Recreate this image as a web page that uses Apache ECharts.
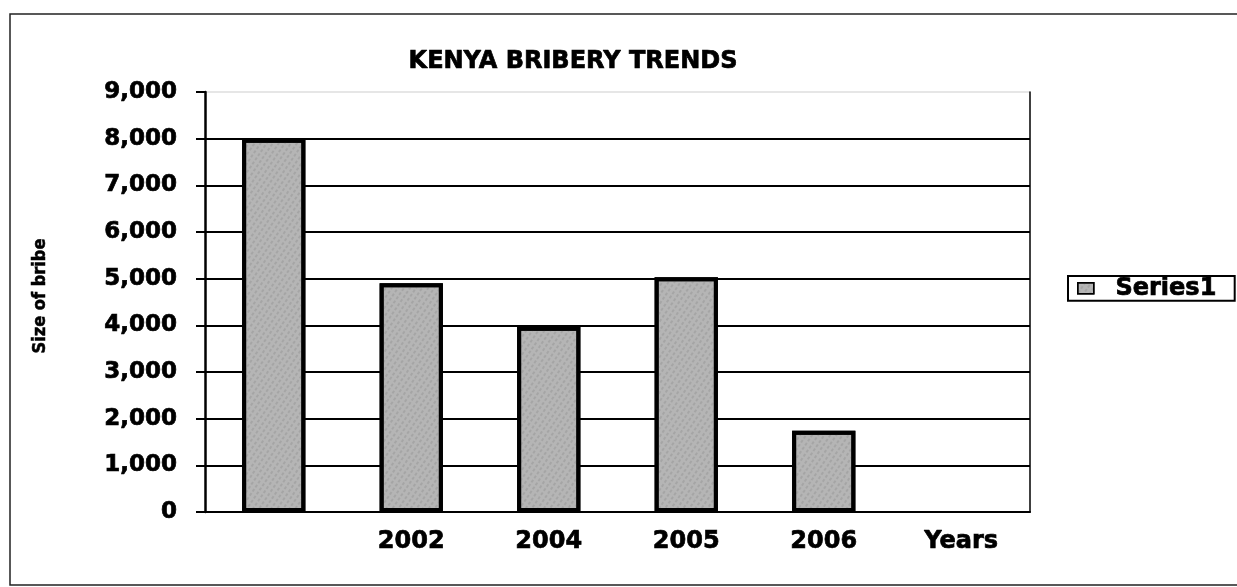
<!DOCTYPE html>
<html>
<head>
<meta charset="utf-8">
<script src="https://cdn.jsdelivr.net/npm/echarts@6/dist/echarts.min.js"></script>
<style>
html,body{margin:0;padding:0;background:#fff;}
#c{width:1237px;height:587px;}
</style>
</head>
<body>
<div id="c"></div>
<script>
var categories = ['', '2002', '2004', '2005', '2006', 'Years'];
var values = [8000, 4900, 3970, 5030, 1740, null];
var seriesName = 'Series1';
var titleText = 'KENYA BRIBERY TRENDS';
var yName = 'Size of bribe';

var chart = echarts.init(document.getElementById('c'), null, {renderer: 'canvas'});
var font = '"DejaVu Sans", Verdana, sans-serif';
var heavy = {textBorderColor: '#000', textBorderWidth: 0.7};
var splitColors = ['#000','#000','#000','#000','#000','#000','#000','#000','#000','#e6e6e6'];
chart.setOption({
  animation: false,
  backgroundColor: '#fff',
  graphic: [{
    type: 'rect', shape: {x: 10, y: 14, width: 1240, height: 571},
    style: {fill: 'none', stroke: '#222', lineWidth: 1.5}, silent: true
  }],
  title: {
    text: titleText, left: 568, top: 45, textAlign: 'center',
    textStyle: Object.assign({fontFamily: font, fontWeight: 'bold', fontSize: 24, color: '#000'}, heavy)
  },
  legend: {
    data: [seriesName], left: 1068, top: 276, orient: 'vertical',
    borderColor: '#000', borderWidth: 2, padding: [0, 18, 0, 9],
    icon: 'rect', itemWidth: 16, itemHeight: 11, itemGap: 0,
    itemStyle: {borderColor: '#000', borderWidth: 1.5},
    formatter: function (n) { return '  ' + n; },
    textStyle: Object.assign({fontFamily: font, fontWeight: 'bold', fontSize: 24, lineHeight: 24, color: '#000'}, heavy)
  },
  grid: {left: 205, top: 92, right: 207, bottom: 75},
  xAxis: {
    type: 'category', data: categories,
    axisLine: {lineStyle: {color: '#000', width: 2}},
    axisTick: {show: false},
    axisLabel: Object.assign({fontFamily: font, fontWeight: 'bold', fontSize: 24, color: '#000', margin: 18, interval: 0}, heavy)
  },
  yAxis: [{
    type: 'value', min: 0, max: 9000, interval: 1000,
    name: yName, nameLocation: 'middle', nameGap: 156, nameRotate: 90,
    nameTextStyle: Object.assign({fontFamily: '"DejaVu Sans Condensed", "DejaVu Sans", sans-serif', fontWeight: 'bold', fontSize: 18, color: '#000', padding: [0, 0, 0, 12]}, {textBorderColor: '#000', textBorderWidth: 0.5}),
    axisLine: {show: true, lineStyle: {color: '#000', width: 2.5}},
    axisTick: {show: true, length: 9, lineStyle: {color: '#000', width: 2}},
    axisLabel: Object.assign({fontFamily: font, fontWeight: 'bold', fontSize: 23, color: '#000', margin: 28,
      formatter: function (v) { return v.toLocaleString('en-US'); }}, heavy),
    splitLine: {show: true, lineStyle: {color: splitColors, width: 2}}
  }, {
    type: 'value', min: 0, max: 9000, interval: 1000, position: 'right',
    axisLine: {show: true, lineStyle: {color: '#000', width: 1.5}},
    axisTick: {show: false}, axisLabel: {show: false}, splitLine: {show: false}
  }],
  series: [{
    name: seriesName, type: 'bar', data: values, barWidth: '46%',
    itemStyle: {color: '#b5b5b5', borderColor: '#000', borderWidth: 4,
      decal: {symbol: 'rect', symbolSize: 1, color: 'rgba(110,110,110,0.22)', dashArrayX: [2, 3], dashArrayY: [3, 2], rotation: 0.6}}
  }]
});
</script>
</body>
</html>
